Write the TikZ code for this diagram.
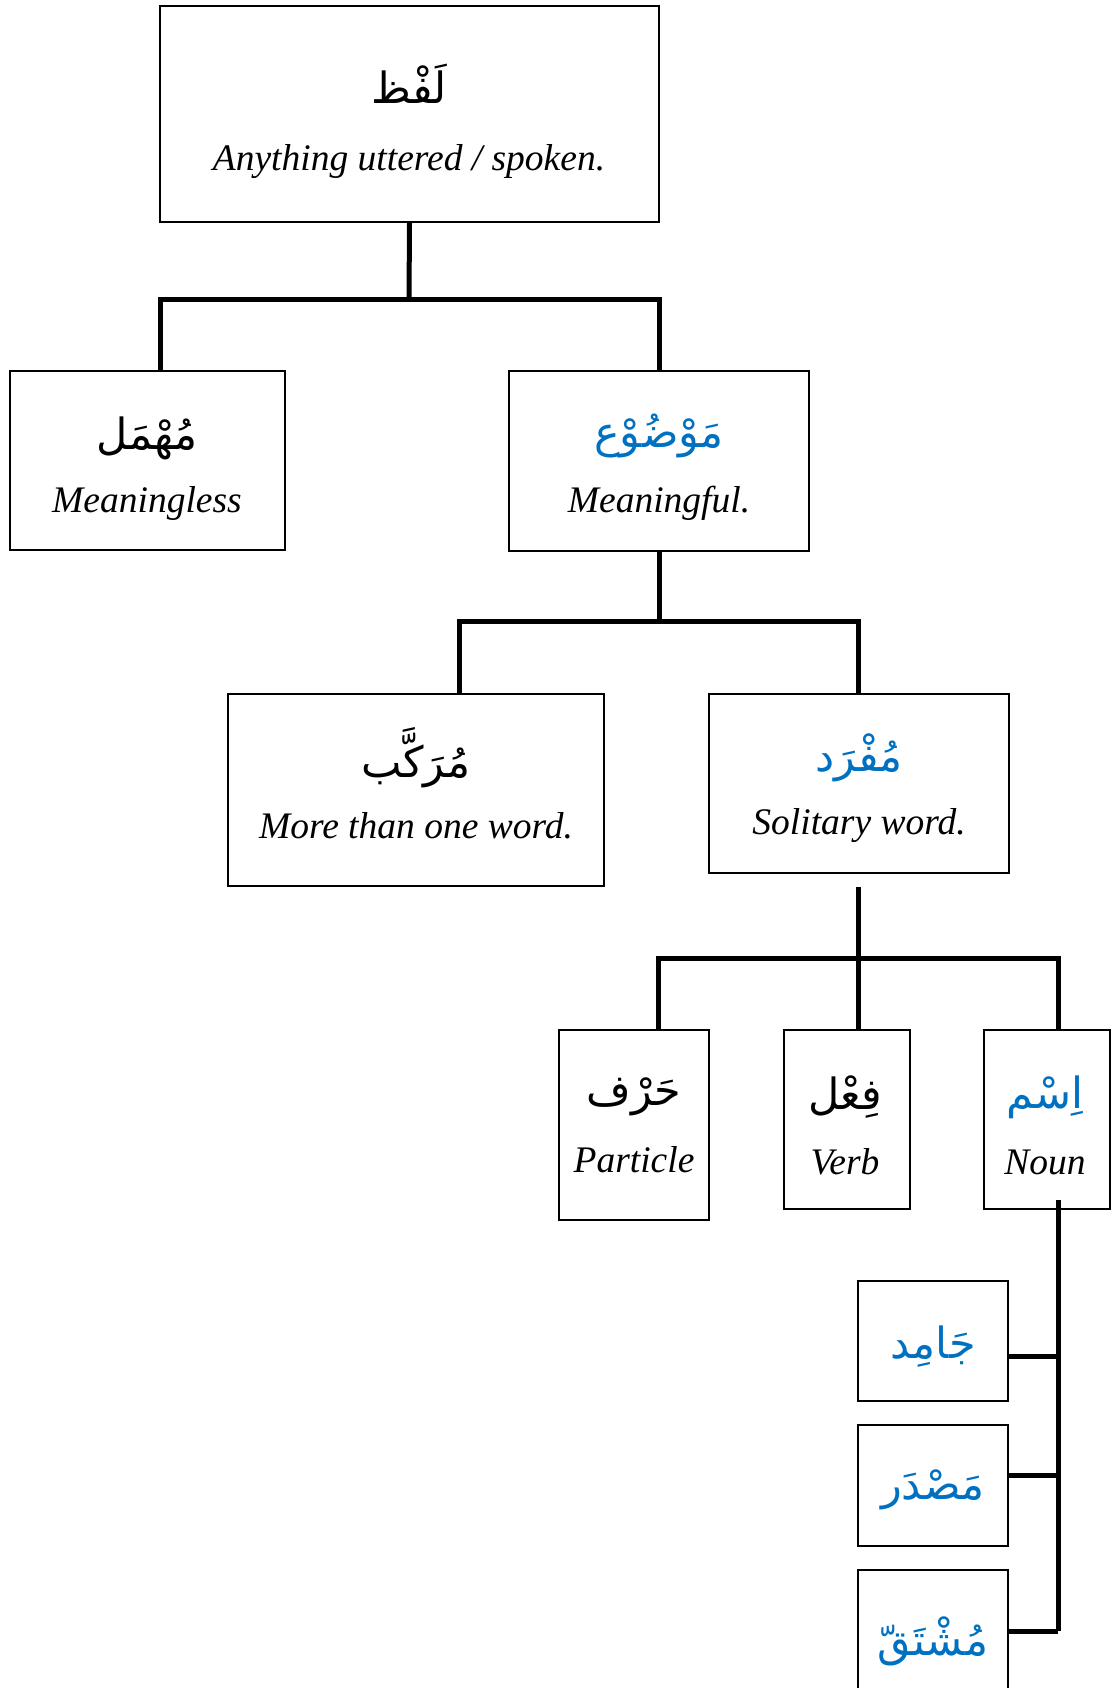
\documentclass[tikz,border=0pt]{standalone}
\usepackage{fontspec}
\setmainfont{Liberation Serif}
\newfontfamily\arabicfont[Script=Arabic]{DejaVu Sans}
\TeXXeTstate=1
\definecolor{arblue}{RGB}{0,112,192}
\begin{document}
\begin{tikzpicture}[x=1pt,y=-1pt,
  box/.style={draw, line width=1.5pt, inner sep=0pt},
  ar/.style={font=\arabicfont\fontsize{43}{48}\selectfont, inner sep=0pt},
  arb/.style={ar, text=arblue},
  en/.style={font=\fontsize{37.5}{44}\selectfont\itshape, inner sep=0pt},
  conn/.style={line width=5pt, line join=miter}]
\useasboundingbox (0,0) rectangle (1117,1688);
\clip (0,0) rectangle (1117,1688);
% boxes
\node[box, minimum width=499pt, minimum height=216pt] (lafz) at (409.5,114) {};
\node[box, minimum width=275pt, minimum height=179pt] (muhmal) at (147.5,460.5) {};
\node[box, minimum width=300pt, minimum height=180pt] (mawdu) at (659,461) {};
\node[box, minimum width=376pt, minimum height=192pt] (murakkab) at (416,790) {};
\node[box, minimum width=300pt, minimum height=179pt] (mufrad) at (859,783.5) {};
\node[box, minimum width=150pt, minimum height=190pt] (harf) at (634,1125) {};
\node[box, minimum width=126pt, minimum height=179pt] (fil) at (847,1119.5) {};
\node[box, minimum width=126pt, minimum height=179pt] (ism) at (1047,1119.5) {};
\node[box, minimum width=150pt, minimum height=120pt] (jamid) at (933,1341) {};
\node[box, minimum width=150pt, minimum height=121pt] (masdar) at (933,1485.5) {};
\node[box, minimum width=150pt, minimum height=150pt] (mushtaq) at (933,1645) {};
% texts
\node[ar] (t-lafz) at (409,84) {\beginR لَفْظ\endR};
\node[en] (e-lafz) at (409,162) {Anything uttered / spoken.};
\node[ar] (t-muhmal) at (147,438) {\beginR مُهْمَل\endR};
\node[en] (e-muhmal) at (147,503) {Meaningless};
\node[arb] (t-mawdu) at (659,436) {\beginR مَوْضُوْع\endR};
\node[en] (e-mawdu) at (659,503) {Meaningful.};
\node[ar] (t-murakkab) at (416,758) {\beginR مُرَكَّب\endR};
\node[en] (e-murakkab) at (416,826) {More than one word.};
\node[arb] (t-mufrad) at (859,758) {\beginR مُفْرَد\endR};
\node[en] (e-mufrad) at (859,826) {Solitary word.};
\node[ar] (t-harf) at (634,1097) {\beginR حَرْف\endR};
\node[en] (e-harf) at (634,1160) {Particle};
\node[ar] (t-fil) at (845,1097) {\beginR فِعْل\endR};
\node[en] (e-fil) at (845,1162) {Verb};
\node[arb] (t-ism) at (1045,1097) {\beginR اِسْم\endR};
\node[en] (e-ism) at (1045,1162) {Noun};
\node[arb] (t-jamid) at (933,1347) {\beginR جَامِد\endR};
\node[arb] (t-masdar) at (933,1490) {\beginR مَصْدَر\endR};
\node[arb] (t-mushtaq) at (933,1641) {\beginR مُشْتَقّ\endR};
% junction coordinates
\coordinate (j1) at (409,299);
\coordinate (j1l) at (160,299);
\coordinate (j1r) at (659,299);
\coordinate (j2) at (659,621);
\coordinate (j2l) at (459,621);
\coordinate (j2r) at (858.5,621);
\coordinate (j3s) at (858.5,887);
\coordinate (j3) at (858.5,958);
\coordinate (j3l) at (658.5,958);
\coordinate (j3r) at (1058,958);
\coordinate (n1) at (1058,1200);
\coordinate (n2) at (1058,1356);
\coordinate (n3) at (1058,1475);
\coordinate (n4) at (1058,1631);
% connectors
\draw[conn] (lafz.south) -- (j1);
\draw[conn] (j1l |- muhmal.north) -- (j1l) -- (j1r) -- (j1r |- mawdu.north);
\draw[conn] (mawdu.south) -- (j2);
\draw[conn] (j2l |- murakkab.north) -- (j2l) -- (j2r) -- (j2r |- mufrad.north);
\draw[conn] (j3s) -- (j3);
\draw[conn] (j3l |- harf.north) -- (j3l) -- (j3r) -- (j3r |- ism.north);
\draw[conn] (j3) -- (j3 |- fil.north);
\draw[conn] (n1) -- (n4);
\draw[conn] (jamid.east |- n2) -- (n2);
\draw[conn] (masdar.east |- n3) -- (n3);
\draw[conn] (mushtaq.east |- n4) -- (n4);
\end{tikzpicture}
\end{document}
